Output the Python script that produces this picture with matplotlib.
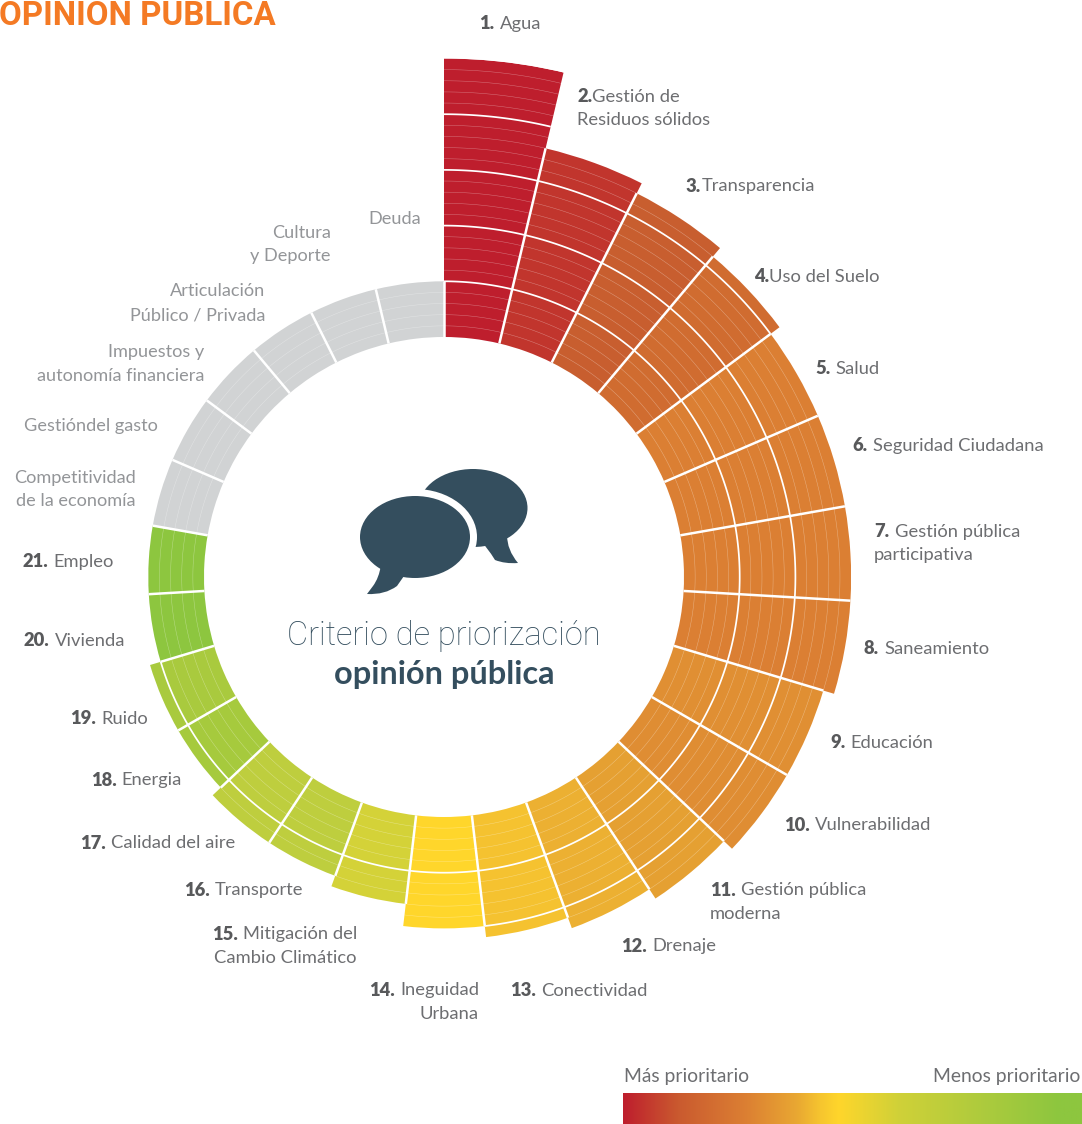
import numpy as np
import matplotlib
matplotlib.use("Agg")
import matplotlib.pyplot as plt
from matplotlib.colors import LinearSegmentedColormap
from matplotlib.patches import Ellipse, PathPatch
from matplotlib.path import Path

W, H = 1082, 1124
FONT = "Lato"

# ---- data -------------------------------------------------------------
categories = ["Agua", "Gestión de Residuos sólidos", "Transparencia", "Uso del Suelo", "Salud",
              "Seguridad Ciudadana", "Gestión pública participativa", "Saneamiento", "Educación",
              "Vulnerabilidad", "Gestión pública moderna", "Drenaje", "Conectividad",
              "Ineguidad Urbana", "Mitigación del Cambio Climático", "Transporte", "Calidad del aire",
              "Energia", "Ruido", "Vivienda", "Empleo",
              "Competitividad de la economía", "Gestión del gasto", "Impuestos y autonomía financiera",
              "Articulación Público / Privada", "Cultura y Deporte", "Deuda"]
levels = [25, 18, 17, 16, 15, 15, 15, 15, 14, 14, 13, 12, 11, 10, 8, 7, 7, 6, 6, 5, 5,
          5, 5, 5, 5, 5, 5]
colors = ["#BE1E2D", "#C1352D", "#C85E2F", "#D06C30", "#DB7F33", "#DB7F33", "#DB7F33", "#DB7F33",
          "#E08F33", "#DF8D33", "#E5A032", "#ECB032", "#F5C230", "#FFD62B", "#D4D238", "#BECE3E",
          "#BECE3E", "#A6CA3D", "#A9CA3E", "#8DC63F", "#8DC63F",
          "#D1D3D4", "#D1D3D4", "#D1D3D4", "#D1D3D4", "#D1D3D4", "#D1D3D4"]

left_labels = [  # number, lines, x, y
    ("1.", ["Agua"], 479, 22),
    ("2.", ["Gestión de", "Residuos sólidos"], 577, 95),
    ("3.", ["Transparencia"], 686, 185),
    ("4.", ["Uso del Suelo"], 754, 275),
    ("5.", ["Salud"], 815, 367),
    ("6.", ["Seguridad Ciudadana"], 852, 444),
    ("7.", ["Gestión pública", "participativa"], 874, 530),
    ("8.", ["Saneamiento"], 864, 647),
    ("9.", ["Educación"], 830, 741),
    ("10.", ["Vulnerabilidad"], 784, 824),
    ("11.", ["Gestión pública", "moderna"], 710, 889),
    ("12.", ["Drenaje"], 621, 945),
    ("13.", ["Conectividad"], 510, 989),
]
right_labels = [
    ("14.", ["Ineguidad", "Urbana"], 479, 989),
    ("15.", ["Mitigación del", "Cambio Climático"], 357, 933),
    ("16.", ["Transporte"], 303, 889),
    ("17.", ["Calidad del aire"], 235, 842),
    ("18.", ["Energia"], 182, 779),
    ("19.", ["Ruido"], 148, 717),
    ("20.", ["Vivienda"], 125, 639),
    ("21.", ["Empleo"], 114, 560),
]
gray_labels = [
    (["Competitividad", "de la economía"], 136, 476),
    (["Gestióndel gasto"], 158, 425),
    (["Impuestos y", "autonomía financiera"], 204, 351),
    (["Articulación", "Público / Privada"], 265, 290),
    (["Cultura", "y Deporte"], 331, 231),
    (["Deuda"], 421, 218),
]
scale_stops = [(0.0, "#BE1E2D"), (0.12, "#CA5A2F"), (0.27, "#DC8033"), (0.38, "#E9A832"), (0.43, "#F6C52F"),
               (0.47, "#FFD62B"), (0.60, "#D0D138"), (0.78, "#AECB3D"), (0.95, "#8DC63F"), (1.0, "#8DC63F")]

# ---- geometry ---------------------------------------------------------
CX, CY = 444.0, 577.0
R0 = 240.0
STEP = 11.14
RMAX = max(levels)
Rpx = R0 + RMAX * STEP

fig = plt.figure(figsize=(W / 100, H / 100), dpi=100, facecolor="white")
ax = fig.add_axes([(CX - Rpx) / W, 1 - (CY + Rpx) / H, 2 * Rpx / W, 2 * Rpx / H], projection="polar")
ax.set_theta_zero_location("N")
ax.set_theta_direction(-1)
ax.set_rlim(-R0 / STEP, RMAX)
ax.set_axis_off()

n = len(levels)
dth = 2 * np.pi / n
edges = np.arange(n + 1) * dth
for i, (lv, c) in enumerate(zip(levels, colors)):
    ax.bar(edges[i], lv, width=dth, bottom=0, align="edge", color=c, linewidth=0, zorder=1)
    th = np.linspace(edges[i], edges[i + 1], 40)
    for s in range(1, lv):
        if s % 5 == 0:
            ax.plot(th, np.full_like(th, s), color="white", lw=1.25, zorder=3, solid_capstyle="butt")
        else:
            ax.plot(th, np.full_like(th, s), color="white", lw=0.35, alpha=0.38, zorder=2)
for i in range(n):
    top = min(levels[i], levels[i - 1])
    ax.plot([edges[i], edges[i]], [0, top], color="white", lw=1.8, zorder=4, solid_capstyle="butt")

# ---- overlay in pixel coordinates ---------------------------------------
ov = fig.add_axes([0, 0, 1, 1], facecolor="none")
ov.set_axis_off()

DARK = "#344E5E"
# speech bubbles
ov.add_patch(Ellipse((473, 508), 109, 78, color=DARK, lw=0))
ov.add_patch(PathPatch(Path([(507, 535), (507, 550), (518, 563), (505, 564), (495, 560), (487, 547), (480, 540), (507, 535)],
                            [1, 3, 3, 3, 3, 3, 2, 79]), color=DARK, lw=0))
ov.add_patch(Ellipse((415, 537), 124, 96, color="white", lw=0))
ov.add_patch(Ellipse((415, 537), 110, 82, color=DARK, lw=0))
ov.add_patch(PathPatch(Path([(381, 565), (379, 578), (373, 586), (367, 594), (385, 595), (397, 586), (404, 576), (395, 565), (381, 565)],
                            [1, 3, 3, 2, 3, 3, 2, 2, 79]), color=DARK, lw=0))

# colour scale
cmap = LinearSegmentedColormap.from_list("prioridad", scale_stops, N=512)
ov.imshow(np.linspace(0, 1, 512)[None, :], cmap=cmap, aspect="auto", extent=(623, W, H, 1093), zorder=1)
ov.set_xlim(0, W)
ov.set_ylim(H, 0)

TXT = "#6D6E71"
NUM = "#58595B"
GRAY = "#939598"
FS = 13.2
LINE = 23.7
renderer = fig.canvas.get_renderer()


def txt(x, y, s, color=TXT, size=FS, weight="normal", ha="left", family=FONT):
    return ov.text(x, y, s, color=color, fontsize=size, fontweight=weight, ha=ha, va="center_baseline",
                   family=family)


def width(t):
    return t.get_window_extent(renderer).width


for num, lines, x, y in left_labels:
    b = txt(x, y, num, NUM, weight="heavy")
    gap = 0 if num in ("2.", "3.", "4.") else 5.5
    txt(x + width(b) + gap, y, lines[0])
    for k, l in enumerate(lines[1:], 1):
        txt(x, y + k * LINE, l)

for num, lines, x, y in right_labels:
    first = txt(x, y, lines[0], ha="right")
    txt(x - width(first) - 5, y, num, NUM, weight="heavy", ha="right")
    for k, l in enumerate(lines[1:], 1):
        txt(x, y + k * LINE, l, ha="right")

for lines, x, y in gray_labels:
    for k, l in enumerate(lines):
        txt(x, y + k * LINE, l, GRAY, size=13.05, ha="right")

txt(444, 633, "Criterio de priorización", DARK, size=23.5, weight="light", ha="center", family="Roboto")
txt(444, 672, "opinión pública", DARK, size=23.4, weight="bold", ha="center")
txt(624, 1075, "Más prioritario", TXT, size=13.9)
txt(1080, 1075, "Menos prioritario", TXT, size=13.9, ha="right")
ov.text(-1, 25, "OPINIÓN PÚBLICA", color="#F47A24", fontsize=23.8, fontweight="bold", ha="left", va="baseline",
        family="Roboto")

fig.savefig("out.png", dpi=100, facecolor="white")
